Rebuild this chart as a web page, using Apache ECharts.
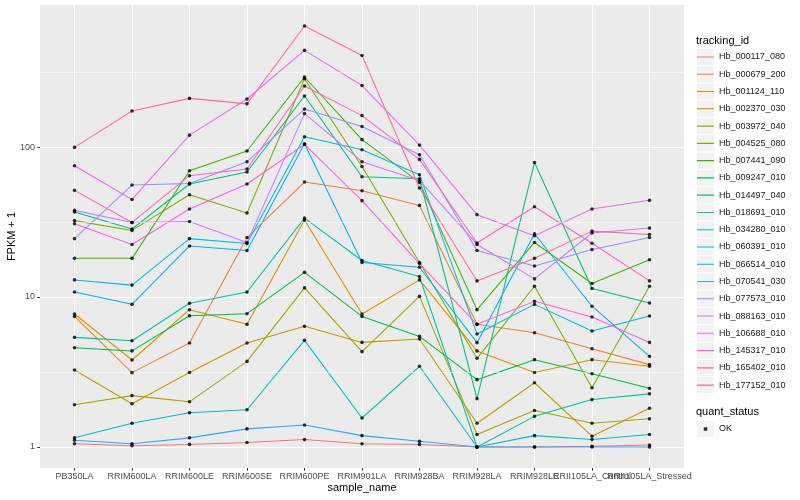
<!DOCTYPE html>
<html><head><meta charset="utf-8">
<script src="https://cdn.jsdelivr.net/npm/echarts@6/dist/echarts.min.js"></script>
<style>html,body{margin:0;padding:0;background:#fff}#c{width:800px;height:500px}</style>
</head><body><div id="c"></div>
<script>
const categories = ['PB350LA','RRIM600LA','RRIM600LE','RRIM600SE','RRIM600PE','RRIM901LA','RRIM928BA','RRIM928LA','RRIM928LE','RRII105LA_Control','RRII105LA_Stressed'];
const trackingIds = ['Hb_000117_080','Hb_000679_200','Hb_001124_110','Hb_002370_030','Hb_003972_040','Hb_004525_080','Hb_007441_090','Hb_009247_010','Hb_014497_040','Hb_018691_010','Hb_034280_010','Hb_060391_010','Hb_066514_010','Hb_070541_030','Hb_077573_010','Hb_088163_010','Hb_106688_010','Hb_145317_010','Hb_165402_010','Hb_177152_010'];
const colors = ['#F8766D','#EA8331','#D89000','#C09B00','#A3A500','#7CAE00','#39B600','#00BB4E','#00BF7D','#00C1A3','#00BFC4','#00BAE0','#00B0F6','#35A2FF','#9590FF','#C77CFF','#E76BF3','#FA62DB','#FF62BC','#FF6C91'];
const yTicks = [1, 10, 100];
const yMinorBreaks = [3.162, 31.62, 316.2];

const hb_000117_080 = [1.05,1.02,1.04,1.07,1.12,1.05,1.04,1.00,1.00,1.01,1.03];
const hb_000679_200 = [7.42,3.13,4.93,24.9,58.4,51.1,40.8,6.57,5.78,4.52,3.54];
const hb_001124_110 = [7.70,3.80,8.23,6.57,32.6,7.70,13.0,4.37,3.14,3.82,3.45];
const hb_002370_030 = [3.26,1.94,3.14,4.93,6.37,4.98,5.25,1.44,2.68,1.18,1.81];
const hb_003972_040 = [1.91,2.20,2.00,3.72,11.5,4.32,10.1,1.21,1.75,1.44,1.54];
const hb_004525_080 = [32.3,27.8,48.1,36.3,285,74.2,17.0,3.90,11.8,2.48,11.8];
const hb_007441_090 = [18.1,18.1,69.5,94.0,293,112,58.1,8.23,23.1,12.3,17.7];
const hb_009247_010 = [4.59,4.37,7.50,7.74,14.6,7.42,5.46,2.81,3.82,3.08,2.46];
const hb_014497_040 = [36.9,28.4,56.7,68.1,219,63.4,61.5,2.10,78.9,11.4,9.12];
const hb_018691_010 = [5.38,5.11,9.09,10.8,33.6,17.5,13.7,1.00,1.60,2.07,2.26];
const hb_034280_010 = [1.15,1.44,1.69,1.77,5.14,1.56,3.45,1.00,1.19,1.12,1.21];
const hb_060391_010 = [13.0,12.0,24.5,22.7,117,95.9,65.4,5.67,8.93,5.93,7.47];
const hb_066514_010 = [10.8,8.93,21.9,20.4,105,17.0,15.8,4.96,26.4,8.68,4.02];
const hb_070541_030 = [1.11,1.05,1.15,1.32,1.40,1.19,1.09,1.00,1.00,1.00,1.00];
const hb_077573_010 = [24.5,55.8,57.2,79.8,179,137,88.9,20.4,16.1,20.7,24.9];
const hb_088163_010 = [37.8,31.4,31.9,23.1,167,79.8,59.9,22.4,13.2,26.7,28.8];
const hb_106688_010 = [75.0,44.7,120,209,441,257,103,35.4,25.6,38.6,44.1];
const hb_145317_010 = [30.8,22.4,38.6,56.7,104,43.9,16.7,6.57,9.35,7.36,4.98];
const hb_165402_010 = [51.4,31.4,64.4,71.4,255,162,82.7,22.9,40.0,22.8,12.8];
const hb_177152_010 = [99.4,174,211,194,641,408,53.3,12.8,18.1,27.5,26.1];

const seriesValues = [hb_000117_080,hb_000679_200,hb_001124_110,hb_002370_030,hb_003972_040,hb_004525_080,hb_007441_090,hb_009247_010,hb_014497_040,hb_018691_010,hb_034280_010,hb_060391_010,hb_066514_010,hb_070541_030,hb_077573_010,hb_088163_010,hb_106688_010,hb_145317_010,hb_165402_010,hb_177152_010];

const font = 'Liberation Sans, Arial, Helvetica, sans-serif';
const X_MIN = -0.6, X_MAX = 10.6;
const catIdx = categories.map((c, i) => i);
const xLabelValues = [X_MIN].concat(catIdx).concat([X_MAX]);
const lineIcon = 'path://M0,0h0.01v0.01z M16.99,16h0.01v-0.01z M0,7.45h17v1.1h-17z';
const dotIcon = 'path://M0,0h0.01v0.01z M16.99,16h0.01v-0.01z M6.7,6.2h3.6v3.6h-3.6z';

const lineSeries = seriesValues.map((vals, k) => ({
  name: trackingIds[k], type: 'line', symbol: 'none', silent: true,
  data: vals.map((v, i) => [i, v]),
  lineStyle: { color: colors[k], width: 1.05 }, itemStyle: { color: colors[k] },
  z: 2, emphasis: { disabled: true }
}));
const pointData = [];
seriesValues.forEach(vals => vals.forEach((v, i) => pointData.push([i, v])));

const minorGridSeries = {
  name: 'minor-grid', type: 'line', data: [], silent: true, z: 1,
  markLine: {
    silent: true, symbol: 'none', animation: false,
    label: { show: false },
    lineStyle: { color: '#FFFFFF', width: 0.55, type: 'solid' },
    emphasis: { disabled: true },
    data: yMinorBreaks.map(v => ({ yAxis: v }))
  }
};

const legendBase = { orient: 'vertical', left: 697, padding: 0, itemGap: 1.27, itemWidth: 17, itemHeight: 16, selectedMode: false };

const option = {
  animation: false,
  textStyle: { fontFamily: font },
  title: [
    { text: 'tracking_id', left: 696, top: 35, padding: 0, textStyle: { fontSize: 11, fontWeight: 'normal', color: '#000', fontFamily: font } },
    { text: 'quant_status', left: 696, top: 406, padding: 0, textStyle: { fontSize: 11, fontWeight: 'normal', color: '#000', fontFamily: font } }
  ],
  legend: [
    Object.assign({}, legendBase, { top: 49, data: trackingIds, icon: 'rect', itemStyle: { color: '#F2F2F2', borderWidth: 0 }, textStyle: { color: 'rgba(0,0,0,0)', fontSize: 9 }, z: 3 }),
    Object.assign({}, legendBase, { top: 49, data: trackingIds.map((n, i) => ({ name: n, itemStyle: { color: colors[i] } })), icon: lineIcon, itemStyle: { borderWidth: 0 }, textStyle: { color: '#1A1A1A', fontSize: 9, fontFamily: font }, z: 4 }),
    Object.assign({}, legendBase, { top: 421, data: ['OK'], icon: 'rect', itemStyle: { color: '#F2F2F2', borderWidth: 0 }, textStyle: { color: 'rgba(0,0,0,0)', fontSize: 9 }, z: 3 }),
    Object.assign({}, legendBase, { top: 421, data: [{ name: 'OK', itemStyle: { color: '#000' } }], icon: dotIcon, itemStyle: { borderWidth: 0 }, textStyle: { color: '#1A1A1A', fontSize: 9, fontFamily: font }, z: 4 })
  ],
  grid: { left: 40, right: 116, top: 5, bottom: 32, show: true, backgroundColor: '#EBEBEB', borderWidth: 0, outerBoundsMode: 'none', containLabel: false },
  xAxis: {
    type: 'value', min: X_MIN, max: X_MAX,
    axisLine: { show: false, onZero: false },
    axisTick: { show: true, customValues: catIdx, length: 2.7, lineStyle: { color: '#333333', width: 1 } },
    axisLabel: {
      customValues: xLabelValues,
      formatter: v => (Math.abs(v - Math.round(v)) < 1e-6 ? (categories[Math.round(v)] || '') : ''),
      fontSize: 9, color: '#4D4D4D', margin: 4, hideOverlap: false, fontFamily: font
    },
    splitLine: { show: true, lineStyle: { color: '#FFFFFF', width: 1.1 } },
    name: 'sample_name', nameLocation: 'middle', nameGap: 14, nameMoveOverlap: false,
    nameTextStyle: { fontSize: 11, color: '#000', fontFamily: font }
  },
  yAxis: {
    type: 'log', logBase: 10, min: 0.724, max: 885,
    axisLine: { show: false, onZero: false },
    axisTick: { show: true, customValues: yTicks, length: 2.7, lineStyle: { color: '#333333', width: 1 } },
    axisLabel: { customValues: yTicks, formatter: v => String(Math.round(v)), fontSize: 9, color: '#4D4D4D', margin: 5, fontFamily: font },
    splitLine: { show: true, lineStyle: { color: '#FFFFFF', width: 1.1 } },
    name: 'FPKM + 1', nameLocation: 'middle', nameGap: 23, nameRotate: 90, nameMoveOverlap: false,
    nameTextStyle: { fontSize: 11, color: '#000', fontFamily: font }
  },
  series: [minorGridSeries].concat(lineSeries).concat([{
    name: 'OK', type: 'scatter', data: pointData, symbol: 'circle', symbolSize: 3.6,
    itemStyle: { color: '#000' }, z: 5, silent: true, emphasis: { disabled: true }
  }])
};
const chart = echarts.init(document.getElementById('c'), null, { renderer: 'canvas' });
chart.setOption(option);
</script></body></html>
